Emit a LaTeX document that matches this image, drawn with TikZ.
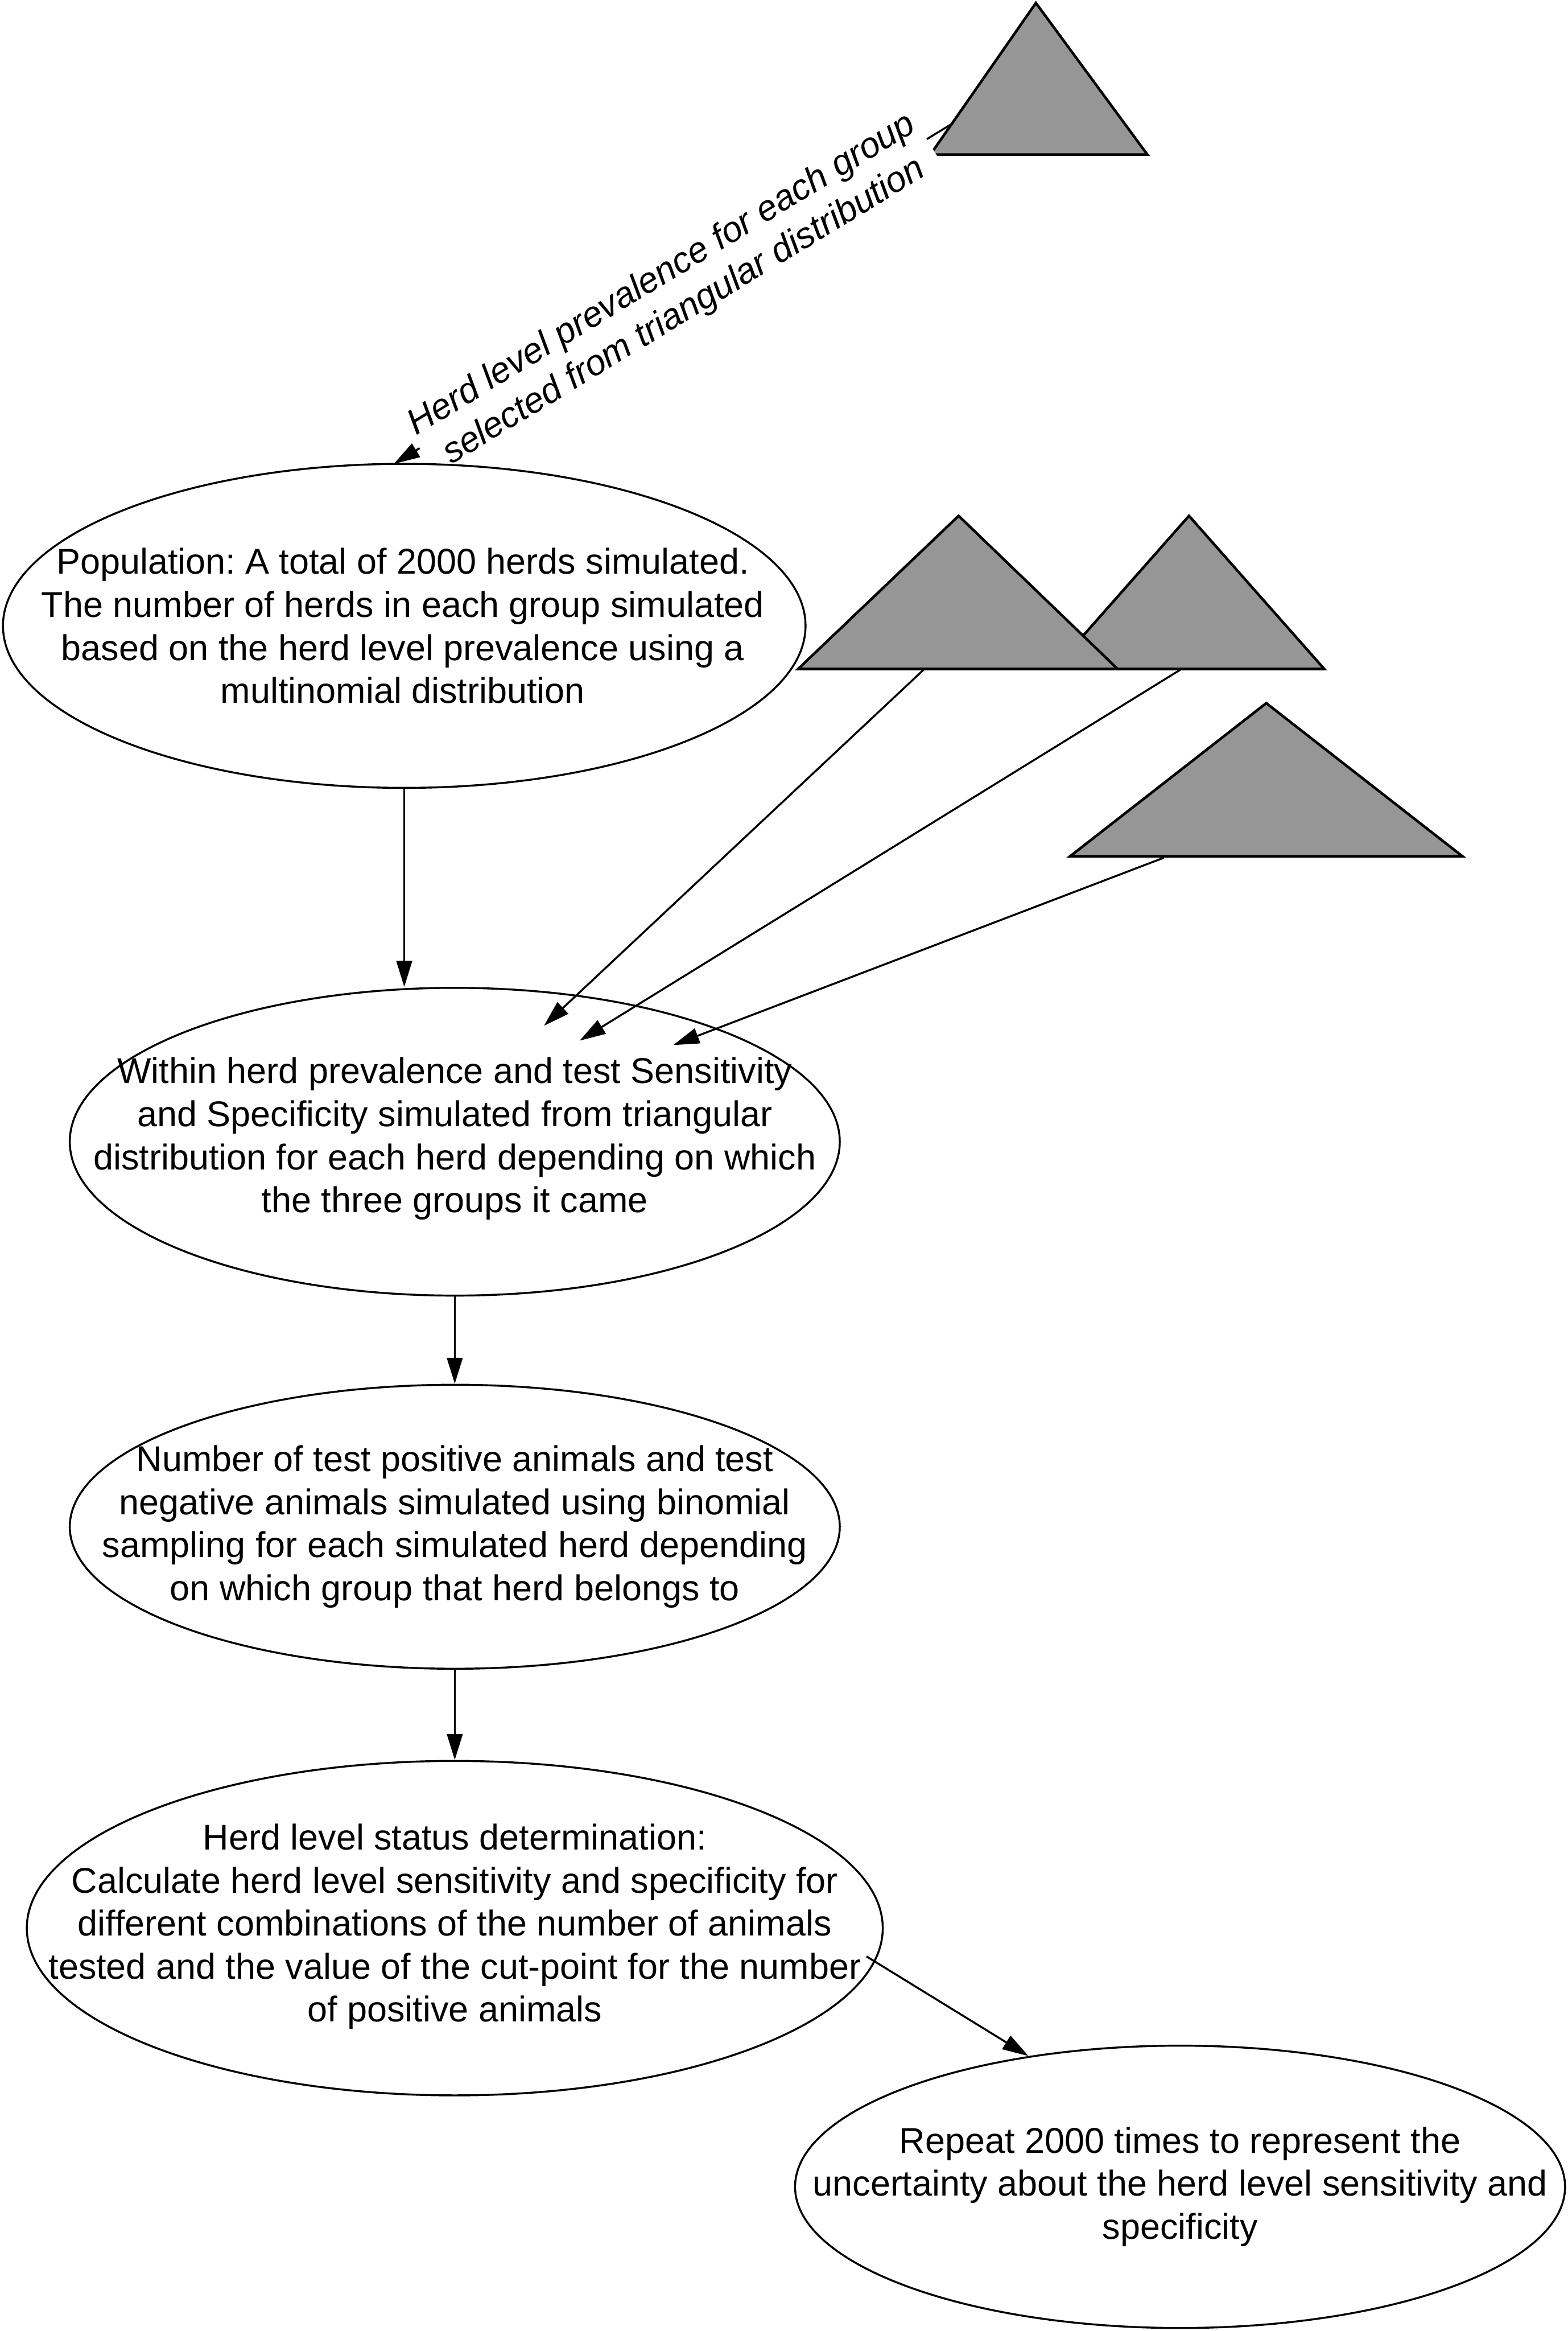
\documentclass[tikz,border=0pt]{standalone}
\usepackage{fontspec}
\setmainfont{Liberation Sans}
\usetikzlibrary{arrows.meta,shapes.geometric}
\definecolor{triGray}{RGB}{150,150,150}
\frenchspacing
\begin{document}
\begin{tikzpicture}[x=0.4565pt,y=-0.4565pt,
  ell/.style={draw, ellipse, line width=0.6pt, inner sep=0pt},
  txt/.style={align=center, font=\fontsize{11}{13.2}\selectfont, inner sep=0pt},
  tri/.style={draw, fill=triGray, line width=0.8pt, line join=miter},
  conn/.style={line width=0.6pt, -{Triangle[length=8pt,width=4.8pt]}}]
\useasboundingbox (0,0) rectangle (1055,1568);
\fill[white] (0,0) rectangle (1055,1568);

% triangles
\draw[tri] (697,2) -- (626,104) -- (772,104) -- cycle;
\draw[tri] (800,347) -- (709,450) -- (891,450) -- cycle;
\draw[tri] (645,347) -- (537,450) -- (752,450) -- cycle;
\draw[tri] (852,473) -- (720,576) -- (984,576) -- cycle;

% top connector with its label (drawn before the ellipse outline)
\coordinate (s1) at (641,83);
\coordinate (t1) at (265,312);
\draw[conn] (s1) -- node[sloped, midway, fill=white, inner sep=1pt, align=center, font=\fontsize{11}{13.2}\selectfont\itshape] (lbl) {Herd level prevalence for each group\\selected from triangular distribution} (t1);

% ellipses
\node[ell, minimum width=246.5pt, minimum height=99.5pt] (e1) at (272,421) {};
\node[ell, minimum width=236.5pt, minimum height=94.5pt] (e2) at (306,768) {};
\node[ell, minimum width=236.5pt, minimum height=87.2pt] (e3) at (306,1027) {};
\node[ell, minimum width=262.9pt, minimum height=102.7pt] (e4) at (306,1297) {};
\node[ell, minimum width=236.5pt, minimum height=86.7pt] (e5) at (794,1471) {};

% texts
\node[txt] (e1t) at (271,421) {Population: A total of 2000 herds simulated.\\The number of herds in each group simulated\\based on the herd level prevalence using a\\multinomial distribution};
\node[txt] (e2t) at (306,766) {Within herd prevalence and test Sensitivity\\and Specificity simulated from triangular\\distribution for each herd depending on which\\the three groups it came};
\node[txt] (e3t) at (306,1027) {Number of test positive animals and test\\negative animals simulated using binomial\\sampling for each simulated herd depending\\on which group that herd belongs to};
\node[txt] (e4t) at (306,1296) {Herd level status determination:\\Calculate herd level sensitivity and specificity for\\different combinations of the number of animals\\tested and the value of the cut-point for the number\\of positive animals};
\node[txt] (e5t) at (794,1471) {Repeat 2000 times to represent the\\uncertainty about the herd level sensitivity and\\specificity};

% connector end points
\coordinate (s2) at (622,450);
\coordinate (a2) at (366,690);
\coordinate (s3) at (795,450);
\coordinate (a3) at (390,700);
\coordinate (s4) at (783,577);
\coordinate (a4) at (453,703);
\coordinate (s5) at (583,1316);
\coordinate (a5) at (692,1383);

% connectors
\draw[conn] (s2) -- (a2);
\draw[conn] (s3) -- (a3);
\draw[conn] (s4) -- (a4);
\draw[conn] (e1.south) -- (e1.south |- e2.north);
\draw[conn] (e2.south) -- (e3.north);
\draw[conn] (e3.south) -- (e4.north);
\draw[conn] (s5) -- (a5);
\end{tikzpicture}
\end{document}
